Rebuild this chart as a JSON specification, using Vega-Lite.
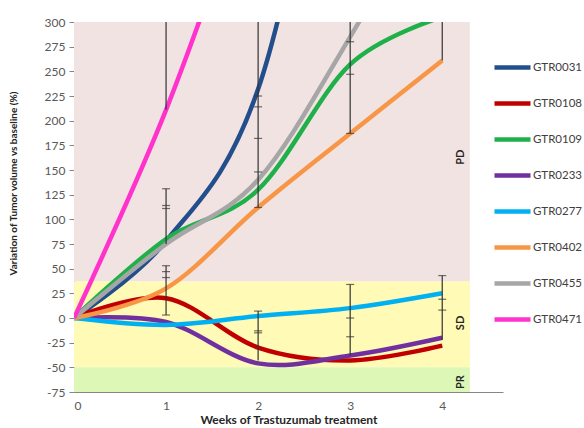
{
  "$schema": "https://vega.github.io/schema/vega-lite/v6.json",
  "autosize": {"type": "none"},
  "padding": {"left": 74, "top": 22, "right": 81, "bottom": 36},
  "width": 429,
  "height": 370,
  "background": "white",
  "config": {
    "font": "Lato",
    "view": {"stroke": null},
    "axis": {"labelFont": "Lato", "titleFont": "Lato", "labelColor": "#595959", "titleColor": "#262626", "domainColor": "#868686", "tickColor": "#868686", "grid": false},
    "axisY": {"titleX": -56, "titleY": 161, "titleFontSize": 10, "titleFontWeight": "bold"}
  },
  "datasets": {
    "series": [
      {"series": "GTR0031", "week": 0, "value": 0},
      {"series": "GTR0031", "week": 1, "value": 78},
      {"series": "GTR0031", "week": 2, "value": 232},
      {"series": "GTR0031", "week": 3, "value": 620},
      {"series": "GTR0031", "week": 4, "value": 900},
      {"series": "GTR0108", "week": 0, "value": 0},
      {"series": "GTR0108", "week": 1, "value": 20},
      {"series": "GTR0108", "week": 2, "value": -30},
      {"series": "GTR0108", "week": 3, "value": -43},
      {"series": "GTR0108", "week": 4, "value": -28},
      {"series": "GTR0109", "week": 0, "value": 0},
      {"series": "GTR0109", "week": 1, "value": 80},
      {"series": "GTR0109", "week": 2, "value": 130},
      {"series": "GTR0109", "week": 3, "value": 257},
      {"series": "GTR0109", "week": 4, "value": 305},
      {"series": "GTR0233", "week": 0, "value": 0},
      {"series": "GTR0233", "week": 1, "value": -4},
      {"series": "GTR0233", "week": 2, "value": -46},
      {"series": "GTR0233", "week": 3, "value": -38},
      {"series": "GTR0233", "week": 4, "value": -20},
      {"series": "GTR0277", "week": 0, "value": 0},
      {"series": "GTR0277", "week": 1, "value": -7},
      {"series": "GTR0277", "week": 2, "value": 2},
      {"series": "GTR0277", "week": 3, "value": 10},
      {"series": "GTR0277", "week": 4, "value": 25},
      {"series": "GTR0402", "week": 0, "value": 0},
      {"series": "GTR0402", "week": 1, "value": 30},
      {"series": "GTR0402", "week": 2, "value": 112},
      {"series": "GTR0402", "week": 3, "value": 187},
      {"series": "GTR0402", "week": 4, "value": 261},
      {"series": "GTR0455", "week": 0, "value": 0},
      {"series": "GTR0455", "week": 1, "value": 75},
      {"series": "GTR0455", "week": 2, "value": 140},
      {"series": "GTR0455", "week": 3, "value": 285},
      {"series": "GTR0455", "week": 4, "value": 450},
      {"series": "GTR0471", "week": 0, "value": 0},
      {"series": "GTR0471", "week": 1, "value": 211},
      {"series": "GTR0471", "week": 2, "value": 470},
      {"series": "GTR0471", "week": 3, "value": 750},
      {"series": "GTR0471", "week": 4, "value": 1000}
    ],
    "errbars": [
      {"week": 1, "lo": 211, "hi": 300},
      {"week": 1, "lo": 75, "hi": 131},
      {"week": 1, "lo": 3, "hi": 53},
      {"week": 2, "lo": 112, "hi": 300},
      {"week": 2, "lo": -43, "hi": 7},
      {"week": 3, "lo": 187, "hi": 300},
      {"week": 3, "lo": -38, "hi": 34},
      {"week": 4, "lo": 261, "hi": 300},
      {"week": 4, "lo": -22, "hi": 43}
    ],
    "caps": [
      {"week": 1, "y": 131}, {"week": 1, "y": 114}, {"week": 1, "y": 111},
      {"week": 1, "y": 53}, {"week": 1, "y": 47}, {"week": 1, "y": 41}, {"week": 1, "y": 3},
      {"week": 2, "y": 225}, {"week": 2, "y": 214}, {"week": 2, "y": 182}, {"week": 2, "y": 148}, {"week": 2, "y": 112},
      {"week": 2, "y": 7}, {"week": 2, "y": -13}, {"week": 2, "y": -15},
      {"week": 3, "y": 280}, {"week": 3, "y": 247}, {"week": 3, "y": 187},
      {"week": 3, "y": 34}, {"week": 3, "y": 0}, {"week": 3, "y": -19},
      {"week": 4, "y": 43}, {"week": 4, "y": 19}, {"week": 4, "y": 8}
    ],
    "zones": [
      {"zone": "PD", "lo": 37, "hi": 300, "mid": 163},
      {"zone": "SD", "lo": -50, "hi": 37, "mid": -5},
      {"zone": "PR", "lo": -75, "hi": -50, "mid": -65}
    ]
  },
  "layer": [
    {
      "data": {"name": "zones"},
      "mark": {"type": "rect"},
      "encoding": {
        "x": {"datum": 0, "type": "quantitative", "scale": {"domain": [0, 4.66], "nice": false},
          "axis": {"title": "Weeks of Trastuzumab treatment", "values": [0, 1, 2, 3, 4], "format": "d", "ticks": false, "labelFontSize": 12, "labelPadding": 8, "titleFontWeight": "bold", "titleFontSize": 12, "titlePadding": 3}},
        "x2": {"datum": 4.3},
        "y": {"field": "lo", "type": "quantitative", "scale": {"domain": [-75, 300], "nice": false},
          "axis": {"title": "Variation of Tumor volume vs baseline (%)", "values": [-75, -50, -25, 0, 25, 50, 75, 100, 125, 150, 175, 200, 225, 250, 275, 300], "labelExpr": "'' + datum.value", "labelOverlap": false, "labelBound": false, "tickSize": 5, "labelFontSize": 12, "labelPadding": 4}},
        "y2": {"field": "hi"},
        "fill": {"field": "zone", "type": "nominal", "scale": {"domain": ["PD", "SD", "PR"], "range": ["#F2E3E3", "#FFFAB5", "#DDF7B6"]}, "legend": null}
      }
    },
    {
      "data": {"name": "zones"},
      "mark": {"type": "text", "angle": 270, "fontWeight": "bold", "fontSize": 11, "color": "#262626", "font": "Lato"},
      "encoding": {
        "x": {"datum": 4.2, "type": "quantitative",
          "axis": {"title": "Weeks of Trastuzumab treatment", "values": [0, 1, 2, 3, 4], "format": "d", "ticks": false, "labelFontSize": 12, "labelPadding": 8, "titleFontWeight": "bold", "titleFontSize": 12, "titlePadding": 3}},
        "y": {"field": "mid", "type": "quantitative",
          "axis": {"title": "Variation of Tumor volume vs baseline (%)", "values": [-75, -50, -25, 0, 25, 50, 75, 100, 125, 150, 175, 200, 225, 250, 275, 300], "labelExpr": "'' + datum.value", "labelOverlap": false, "labelBound": false, "tickSize": 5, "labelFontSize": 12, "labelPadding": 4}},
        "text": {"field": "zone"}
      }
    },
    {
      "data": {"name": "series"},
      "mark": {"type": "line", "interpolate": "cardinal", "strokeWidth": 4.5, "clip": true},
      "encoding": {
        "x": {"field": "week", "type": "quantitative",
          "axis": {"title": "Weeks of Trastuzumab treatment", "values": [0, 1, 2, 3, 4], "format": "d", "ticks": false, "labelFontSize": 12, "labelPadding": 8, "titleFontWeight": "bold", "titleFontSize": 12, "titlePadding": 3}},
        "y": {"field": "value", "type": "quantitative",
          "axis": {"title": "Variation of Tumor volume vs baseline (%)", "values": [-75, -50, -25, 0, 25, 50, 75, 100, 125, 150, 175, 200, 225, 250, 275, 300], "labelExpr": "'' + datum.value", "labelOverlap": false, "labelBound": false, "tickSize": 5, "labelFontSize": 12, "labelPadding": 4}},
        "color": {"field": "series", "type": "nominal",
          "scale": {"domain": ["GTR0031", "GTR0108", "GTR0109", "GTR0233", "GTR0277", "GTR0402", "GTR0455", "GTR0471"],
                    "range": ["#234E8C", "#C00000", "#1FB04A", "#7030A0", "#00B0F0", "#F79646", "#A6A6A6", "#FF33CC"]},
          "legend": {"title": null, "orient": "none", "legendX": 418, "legendY": 25, "symbolType": "stroke", "symbolSize": 1296, "symbolStrokeWidth": 4.5, "rowPadding": 6, "padding": 0, "labelOffset": 0, "labelFontSize": 11.5, "labelColor": "#404040", "labelFont": "Lato"}}
      }
    },
    {
      "data": {"name": "errbars"},
      "mark": {"type": "rule", "color": "#333333", "strokeWidth": 1.2, "clip": true},
      "encoding": {
        "x": {"field": "week", "type": "quantitative",
          "axis": {"title": "Weeks of Trastuzumab treatment", "values": [0, 1, 2, 3, 4], "format": "d", "ticks": false, "labelFontSize": 12, "labelPadding": 8, "titleFontWeight": "bold", "titleFontSize": 12, "titlePadding": 3}},
        "y": {"field": "lo", "type": "quantitative",
          "axis": {"title": "Variation of Tumor volume vs baseline (%)", "values": [-75, -50, -25, 0, 25, 50, 75, 100, 125, 150, 175, 200, 225, 250, 275, 300], "labelExpr": "'' + datum.value", "labelOverlap": false, "labelBound": false, "tickSize": 5, "labelFontSize": 12, "labelPadding": 4}},
        "y2": {"field": "hi"}
      }
    },
    {
      "data": {"name": "caps"},
      "mark": {"type": "tick", "orient": "horizontal", "color": "#333333", "size": 8, "thickness": 1.2},
      "encoding": {
        "x": {"field": "week", "type": "quantitative",
          "axis": {"title": "Weeks of Trastuzumab treatment", "values": [0, 1, 2, 3, 4], "format": "d", "ticks": false, "labelFontSize": 12, "labelPadding": 8, "titleFontWeight": "bold", "titleFontSize": 12, "titlePadding": 3}},
        "y": {"field": "y", "type": "quantitative",
          "axis": {"title": "Variation of Tumor volume vs baseline (%)", "values": [-75, -50, -25, 0, 25, 50, 75, 100, 125, 150, 175, 200, 225, 250, 275, 300], "labelExpr": "'' + datum.value", "labelOverlap": false, "labelBound": false, "tickSize": 5, "labelFontSize": 12, "labelPadding": 4}}
      }
    }
  ],
  "resolve": {"scale": {"fill": "independent", "color": "independent"}}
}
